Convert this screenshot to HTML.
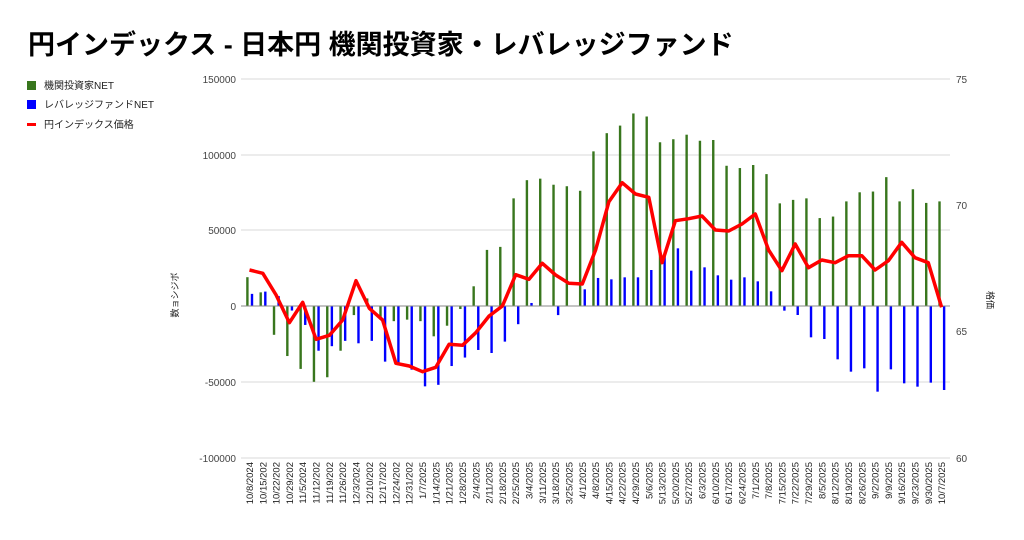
<!DOCTYPE html>
<html><head><meta charset="utf-8"><style>
body{margin:0;background:#fff;}
svg{display:block;font-family:"Liberation Sans","Noto Sans CJK JP",sans-serif;}
</style></head><body>
<svg id="c" width="1024" height="540" xmlns="http://www.w3.org/2000/svg">
<rect width="1024" height="540" fill="#fff"/>
<text x="28" y="54" font-size="27" font-weight="bold" fill="#000">円インデックス - 日本円 機関投資家・レバレッジファンド</text>
<rect x="27" y="81" width="9" height="9" fill="#38761d"/>
<text x="44" y="89" font-size="10" fill="#222">機関投資家NET</text>
<rect x="27" y="100" width="9" height="9" fill="#0000ff"/>
<text x="44" y="108" font-size="10" fill="#222">レバレッジファンドNET</text>
<rect x="27" y="123" width="9" height="3" fill="#ff0000"/>
<text x="44" y="128" font-size="10" fill="#222">円インデックス価格</text>
<g id="grid"></g>
<text transform="translate(178,295) rotate(-90)" font-size="9" text-anchor="middle" fill="#222">数ョシジボ</text>
<text transform="translate(987,300) rotate(90)" font-size="9" text-anchor="middle" fill="#222">格価</text>
</svg>
<script>
var s=document.getElementById('c'),NS='http://www.w3.org/2000/svg';
function el(t,a,txt){var e=document.createElementNS(NS,t);for(var k in a)e.setAttribute(k,a[k]);if(txt!=null)e.textContent=txt;s.appendChild(e);return e;}
var L=241,R=950;
var gy=[79,155,230,306,382,458],gl=['150000','100000','50000','0','-50000','-100000'];
for(var i=0;i<6;i++){if(i!=3)el('line',{x1:L,x2:R,y1:gy[i],y2:gy[i],stroke:'#d9d9d9','stroke-width':1});
el('text',{x:236,y:gy[i]+4,'font-size':10,'text-anchor':'end',fill:'#444'},gl[i]);}
var rl=[[79,'75'],[205,'70'],[331,'65'],[458,'60']];
rl.forEach(function(r){el('text',{x:956,y:r[0]+4,'font-size':10,fill:'#444'},r[1]);});
var G=[19,9,-19,-33,-41.5,-50,-47,-29.5,-6,5,-9,-10,-9,-10,-20,-13,-2,13,37,39,71,83,84,80,79,76,102,114,119,127,125,108,110,113,109,109.5,92.5,91,93,87,67.7,70,71,58,59,69,75,75.5,85,69,77,68,69];
var B=[8,9.5,6.5,-3,-12.5,-29.5,-26.5,-23,-24.6,-23,-36.7,-39,-42,-53,-52,-39.6,-34,-29,-31,-23.5,-12,2,0,-6,0,11,18.5];
var bz=[538,532,532,510,465,445,512,502,526,539,532,544,574,632,645,712,717,778,815,805,875,808,850,860,848,870];
bz.forEach(function(y){var yo=100+y/3;B.push((306-yo)/1.516);});
var P=[270,273.3,295,322.7,302.3,339.3,335.3,320,280.7,308.3,320,363.3,366,371.7,367.3,344.3,345.3,332.7,316,306,274.7,279.3,263.3,275,283.3,284,250,201.7,182.7,194,197.3,262.7,220.7,218.7,216,230,231,224,214,250,270.7,244,267.7,260,262.7,255.7,255.7,270,260.7,242.3,257.7,262.7,307.3];
var D=['10/8/2024','10/15/202','10/22/202','10/29/202','11/5/2024','11/12/202','11/19/202','11/26/202','12/3/2024','12/10/202','12/17/202','12/24/202','12/31/202','1/7/2025','1/14/2025','1/21/2025','1/28/2025','2/4/2025','2/11/2025','2/18/2025','2/25/2025','3/4/2025','3/11/2025','3/18/2025','3/25/2025','4/1/2025','4/8/2025','4/15/2025','4/22/2025','4/29/2025','5/6/2025','5/13/2025','5/20/2025','5/27/2025','6/3/2025','6/10/2025','6/17/2025','6/24/2025','7/1/2025','7/8/2025','7/15/2025','7/22/2025','7/29/2025','8/5/2025','8/12/2025','8/19/2025','8/26/2025','9/2/2025','9/9/2025','9/16/2025','9/23/2025','9/30/2025','10/7/2025'];
var st=13.31;
for(var i=0;i<53;i++){
 var gx=246.2+st*i,bx=250.8+st*i,cx=249.5+st*i;
 var gv=306-G[i]*1.516;el('rect',{x:gx,y:Math.min(gv,306),width:2.4,height:Math.abs(gv-306),fill:'#38761d'});
 var bv=306-B[i]*1.516;if(Math.abs(bv-306)>0.5)el('rect',{x:bx,y:Math.min(bv,306),width:2.4,height:Math.abs(bv-306),fill:'#0000ff'});
 el('text',{transform:'translate('+(cx+3.5)+',462) rotate(-90)','font-size':9.5,'text-anchor':'end',fill:'#222'},D[i]);
}
el('line',{x1:L,x2:R,y1:306,y2:306,stroke:'#888','stroke-width':1});
var pts=P.map(function(y,i){return (249.5+st*i).toFixed(1)+','+y;}).join(' ');
el('polyline',{points:pts,fill:'none',stroke:'#ff0000','stroke-width':3.5,'stroke-linejoin':'round'});
</script>
</body></html>
